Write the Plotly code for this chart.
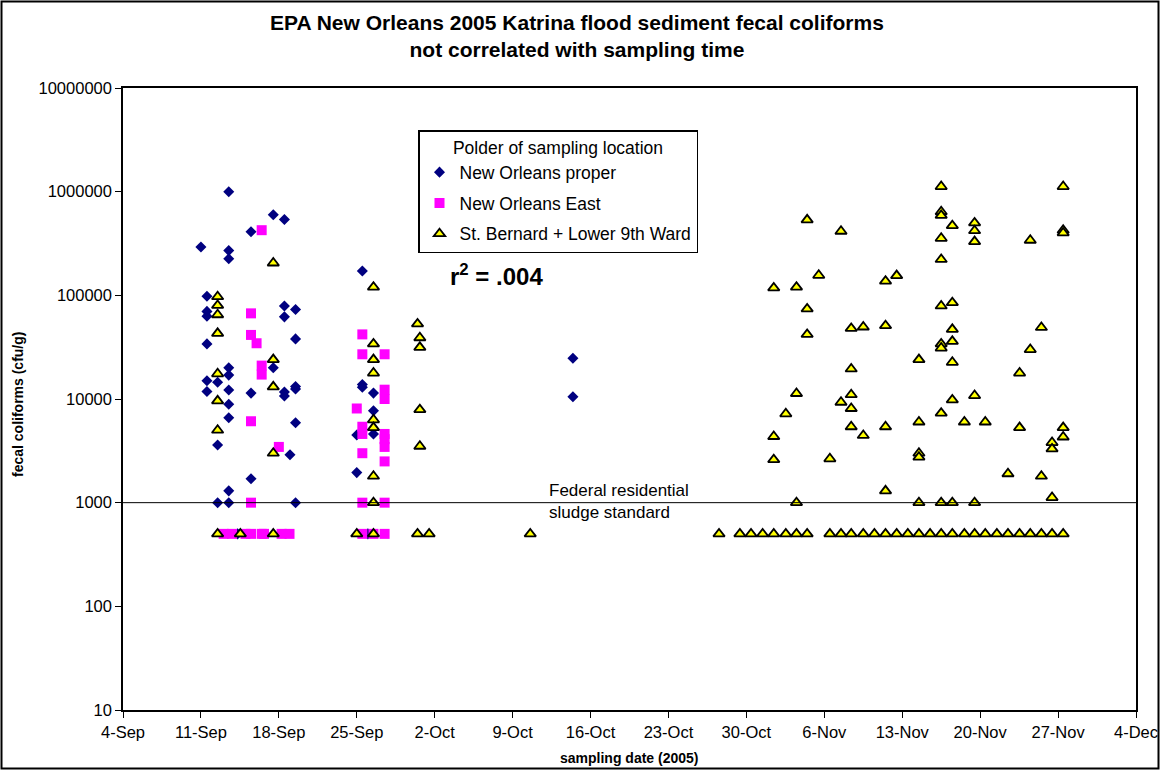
import plotly.graph_objects as go

# ---------------- data ----------------
proper_dates = (
    ["2005-09-11 00:00"]
    + ["2005-09-11 13:00"] * 6
    + ["2005-09-12 12:00"] * 3
    + ["2005-09-13 12:00"] * 10
    + ["2005-09-14 07:00"]
    + ["2005-09-15 12:00"] * 3
    + ["2005-09-17 12:00"] * 2
    + ["2005-09-18 12:00"] * 5
    + ["2005-09-19 00:00"]
    + ["2005-09-19 12:00"] * 6
    + ["2005-09-25 00:00"] * 2
    + ["2005-09-25 12:00"] * 3
    + ["2005-09-26 00:00"]
    + ["2005-09-26 12:00"] * 3
    + ["2005-10-14 10:00"] * 2
)
proper_values = [
    293000,
    98000, 70000, 63000, 34000, 15000, 11800,
    14500, 3600, 1000,
    1000000, 270000, 225000, 20000, 17000, 12200, 8900, 6600, 1300, 1000,
    500,
    410000, 11400, 1700,
    600000, 20000,
    540000, 79000, 62000, 11700, 10700,
    2900,
    73000, 38000, 13200, 12500, 5900, 1000,
    4500, 1950,
    172000, 13800, 13000,
    500,
    11400, 7700, 4600,
    24700, 10500,
]

east_dates = (
    ["2005-09-13 01:00", "2005-09-13 19:00", "2005-09-15 00:00"]
    + ["2005-09-15 12:00"] * 5
    + ["2005-09-16 00:00"]
    + ["2005-09-16 11:00"] * 4
    + ["2005-09-16 16:00", "2005-09-18 00:00", "2005-09-18 06:00", "2005-09-18 23:00"]
    + ["2005-09-25 00:00"]
    + ["2005-09-25 12:00"] * 7
    + ["2005-09-26 12:00"]
    + ["2005-09-27 12:00"] * 9
)
east_values = [
    500, 500, 500,
    67000, 41500, 6100, 1000, 500,
    34500,
    425000, 21000, 17200, 500,
    500, 3450, 500, 500,
    8100,
    42000, 27000, 5400, 4600, 3000, 1000, 500,
    500,
    27000, 12300, 10000, 4600, 4100, 3450, 2500, 1000, 500,
]

stb_dates = (
    ["2005-09-12 12:00"] * 8
    + ["2005-09-14 13:00"]
    + ["2005-09-17 12:00"] * 5
    + ["2005-09-25 00:00"]
    + ["2005-09-26 12:00"] * 9
    + ["2005-09-30 11:00"] * 2
    + ["2005-09-30 16:00"] * 4
    + ["2005-10-01 12:00", "2005-10-10 14:00"]
    + ["2005-10-27 13:00", "2005-10-29 10:00", "2005-10-30 10:00", "2005-10-31 11:00"]
    + ["2005-11-01 11:00"] * 4
    + ["2005-11-02 13:00"] * 2
    + ["2005-11-03 12:00"] * 4
    + ["2005-11-04 11:00"] * 4
    + ["2005-11-05 12:00"]
    + ["2005-11-06 12:00"] * 2
    + ["2005-11-07 12:00"] * 3
    + ["2005-11-08 10:00"] * 6
    + ["2005-11-09 12:00"] * 3
    + ["2005-11-10 12:00"]
    + ["2005-11-11 12:00"] * 5
    + ["2005-11-12 12:00"] * 2
    + ["2005-11-13 12:00"]
    + ["2005-11-14 12:00"] * 6
    + ["2005-11-15 12:00"]
    + ["2005-11-16 12:00"] * 11
    + ["2005-11-17 12:00"] * 8
    + ["2005-11-18 14:00"] * 2
    + ["2005-11-19 12:00"] * 6
    + ["2005-11-20 11:00"] * 2
    + ["2005-11-21 12:00"]
    + ["2005-11-22 12:00"] * 2
    + ["2005-11-23 13:00"] * 3
    + ["2005-11-24 12:00"] * 3
    + ["2005-11-25 12:00"] * 3
    + ["2005-11-26 11:00"] * 4
    + ["2005-11-27 11:00"] * 6
)
stb_values = [
    97000, 80000, 65000, 43000, 17500, 9600, 5000, 500,
    500,
    205000, 24000, 13100, 3000, 500,
    500,
    120000, 34000, 24000, 17800, 6300, 5300, 1800, 1000, 500,
    53000, 500,
    39000, 31500, 7900, 3500,
    500, 500,
    500, 500, 500, 500,
    118000, 4350, 2600, 500,
    7200, 500,
    120000, 11300, 1000, 500,
    535000, 74000, 42000, 500,
    156000,
    2650, 500,
    415000, 9300, 500,
    48000, 19500, 11000, 8100, 5400, 500,
    49500, 4450, 500,
    500,
    137000, 51000, 5400, 1300, 500,
    155000, 500,
    500,
    24000, 6000, 3000, 2750, 1000, 500,
    500,
    1120000, 640000, 590000, 355000, 222000, 79000, 34000, 31000, 7300, 1000, 500,
    470000, 85000, 47000, 36000, 22600, 9800, 1000, 500,
    6000, 500,
    500000, 420000, 330000, 10800, 1000, 500,
    6000, 500,
    500,
    1900, 500,
    17800, 5300, 500,
    340000, 30000, 500,
    49000, 1800, 500,
    3800, 3300, 1120, 500,
    1120000, 425000, 400000, 5300, 4300, 500,
]

series_names = ["New Orleans proper", "New Orleans East", "St. Bernard + Lower 9th Ward"]
legend_title = "Polder of sampling location"
chart_title = "EPA New Orleans 2005 Katrina flood sediment fecal coliforms<br>not correlated with sampling time"

x_tick_dates = ["2005-09-04", "2005-09-11", "2005-09-18", "2005-09-25", "2005-10-02",
                "2005-10-09", "2005-10-16", "2005-10-23", "2005-10-30", "2005-11-06",
                "2005-11-13", "2005-11-20", "2005-11-27", "2005-12-04"]
x_tick_labels = ["4-Sep", "11-Sep", "18-Sep", "25-Sep", "2-Oct", "9-Oct", "16-Oct",
                 "23-Oct", "30-Oct", "6-Nov", "13-Nov", "20-Nov", "27-Nov", "4-Dec"]
y_tick_values = [10, 100, 1000, 10000, 100000, 1000000, 10000000]
y_tick_labels = ["10", "100", "1000", "10000", "100000", "1000000", "10000000"]
standard_level = 1000

FONT = "Liberation Sans, Arial, sans-serif"
W, H = 1160, 770
ML, MR, MT, MB = 123, 24, 88, 60
PW, PH = W - ML - MR, H - MT - MB


def px_x(p):
    return (p - ML) / PW


def px_y(p):
    return (H - MB - p) / PH


fig = go.Figure()
fig.add_trace(go.Scatter(
    x=proper_dates, y=proper_values, mode="markers", name=series_names[0],
    legendgroup="a",
    marker=dict(symbol="diamond", size=8.5, color="#000080", line=dict(width=0)),
))
fig.add_trace(go.Scatter(
    x=east_dates, y=east_values, mode="markers", name=series_names[1],
    legendgroup="b",
    marker=dict(symbol="square", size=10, color="#FF00FF", line=dict(width=0)),
))
fig.add_trace(go.Scatter(
    x=stb_dates, y=stb_values, mode="markers", name=series_names[2],
    legendgroup="c",
    marker=dict(symbol="triangle-up", size=10, color="#FFFF00",
                line=dict(width=1.8, color="#000000")),
))

fig.add_shape(type="line", xref="paper", x0=0, x1=1, yref="y",
              y0=standard_level, y1=standard_level, line=dict(color="black", width=1))

# outer chart border
fig.add_shape(type="rect", xref="paper", yref="paper",
              x0=px_x(1.5), x1=px_x(1158.5), y0=px_y(768.5), y1=px_y(1.5),
              line=dict(color="black", width=2), layer="below")

fig.update_layout(
    width=W, height=H, autosize=False,
    margin=dict(l=ML, r=MR, t=MT, b=MB, autoexpand=False),
    paper_bgcolor="white", plot_bgcolor="white",
    font=dict(family=FONT, size=17, color="black"),
    showlegend=True,
    legend=dict(x=px_x(418), y=px_y(130), xanchor="left", yanchor="top",
                bgcolor="white", bordercolor="black", borderwidth=1.5,
                font=dict(size=17.5, family=FONT),
                title=dict(text=legend_title, side="top center", font=dict(size=17.5, family=FONT)),
                tracegroupgap=5, itemsizing="trace"),
    xaxis=dict(type="date", range=["2005-09-04", "2005-12-04"],
               tickvals=x_tick_dates, ticktext=x_tick_labels, automargin=False,
               ticks="outside", ticklen=6, tickcolor="black", tickwidth=1,
               showline=True, linecolor="black", linewidth=1.5, mirror=True,
               showgrid=False, zeroline=False,
               tickfont=dict(size=16.5, family=FONT)),
    yaxis=dict(type="log", range=[1, 7],
               tickvals=y_tick_values, ticktext=y_tick_labels, automargin=False,
               ticks="outside", ticklen=6, tickcolor="black", tickwidth=1,
               showline=True, linecolor="black", linewidth=1.5, mirror=True,
               showgrid=False, zeroline=False,
               tickfont=dict(size=16.5, family=FONT)),
    annotations=[
        dict(text="<b>" + chart_title + "</b>", xref="paper", yref="paper",
             x=px_x(577), y=px_y(36), xanchor="center", yanchor="middle",
             showarrow=False, font=dict(size=21, family=FONT)),
        dict(text="<b>sampling date (2005)</b>", xref="paper", yref="paper",
             x=0.5, y=px_y(758), xanchor="center", yanchor="middle",
             showarrow=False, font=dict(size=14, family=FONT)),
        dict(text="<b>fecal coliforms (cfu/g)</b>", xref="paper", yref="paper",
             x=px_x(18), y=px_y(405), xanchor="center", yanchor="middle",
             textangle=-90, showarrow=False, font=dict(size=14, family=FONT)),
        dict(text="<b>r<sup>2</sup> = .004</b>", xref="paper", yref="paper",
             x=px_x(448), y=px_y(275), xanchor="left", yanchor="middle",
             showarrow=False, font=dict(size=24, family=FONT)),
        dict(text="Federal residential<br>sludge standard", xref="paper", yref="paper",
             x=px_x(547), y=px_y(501), xanchor="left", yanchor="middle",
             align="left", showarrow=False, font=dict(size=17, family=FONT)),
    ],
)

fig.write_html("out.html", config={"responsive": False})
